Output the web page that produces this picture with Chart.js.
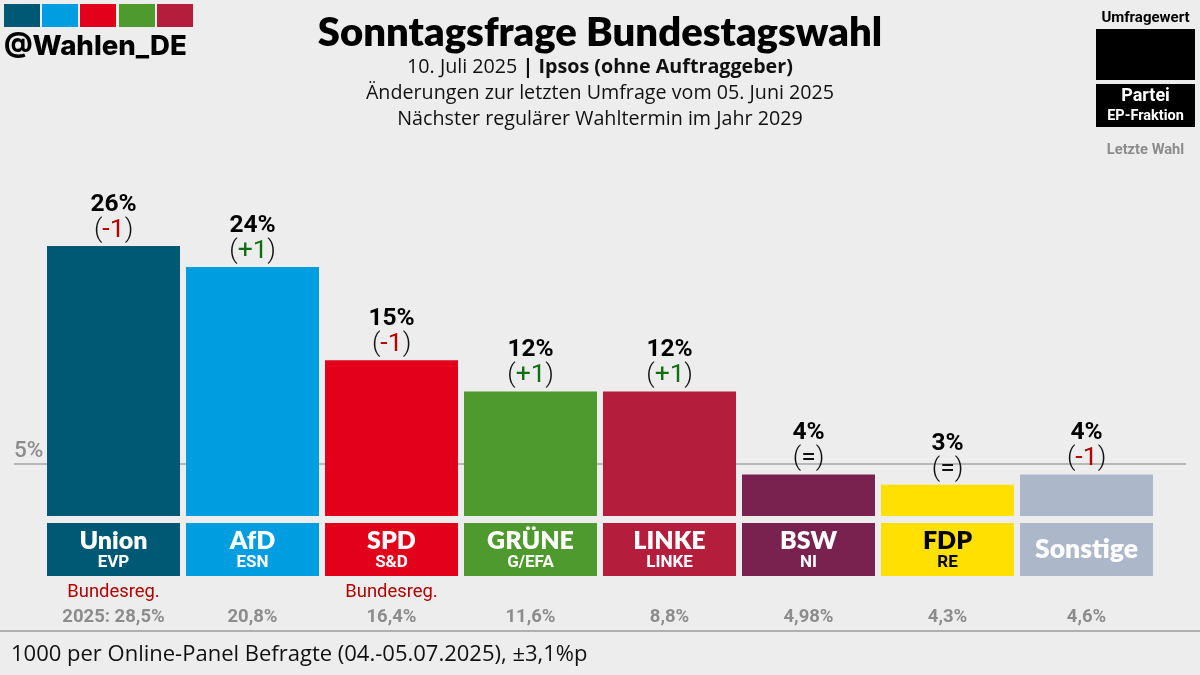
<!DOCTYPE html>
<html>
<head>
<meta charset="UTF-8">
<title>Sonntagsfrage Bundestagswahl</title>
<script src="https://cdn.jsdelivr.net/npm/chart.js@4"></script>
<style>
html,body{margin:0;padding:0;background:#ededed;}
#wrap{position:relative;width:1200px;height:675px;overflow:hidden;background:#ededed;color:#000;}
#chart{position:absolute;left:0;top:0;}
.t{position:absolute;white-space:nowrap;}
.c{left:0;width:1200px;text-align:center;}
.sub{font-family:"Open Sans";font-size:19.7px;line-height:26px;color:#111;}
.logo{position:absolute;top:4px;width:36px;height:23px;}
.leg{position:absolute;left:1096px;width:99px;background:#000;}
</style>
</head>
<body>
<div id="wrap">
  <canvas id="chart" width="1200" height="675"></canvas>
  <div id="logos"></div>
  <div class="t" style="left:4px;top:27px;font:800 27.6px/36px Inter;">@Wahlen_DE</div>
  <div class="t c" style="top:8px;font:800 40px/46px Lato;">Sonntagsfrage Bundestagswahl</div>
  <div class="t c sub" style="top:53px;">10. Juli 2025 <b>| Ipsos (ohne Auftraggeber)</b></div>
  <div class="t c sub" style="top:79px;">Änderungen zur letzten Umfrage vom 05. Juni 2025</div>
  <div class="t c sub" style="top:105px;">Nächster regulärer Wahltermin im Jahr 2029</div>
  <div class="t" style="left:1096px;width:99px;top:9px;text-align:center;font:700 15px/16px Roboto;">Umfragewert</div>
  <div class="leg" style="top:29px;height:51px;"></div>
  <div class="leg" style="top:84px;height:43px;"></div>
  <div class="t" style="left:1096px;width:99px;top:85px;text-align:center;font:700 18px/20px Roboto;color:#fff;">Partei</div>
  <div class="t" style="left:1096px;width:99px;top:107px;text-align:center;font:700 14.5px/18px Roboto;color:#fff;">EP-Fraktion</div>
  <div class="t" style="left:1096px;width:99px;top:141px;text-align:center;font:700 14.7px/17px Roboto;color:#8c8c8c;">Letzte Wahl</div>
  <div style="position:absolute;left:0;top:630px;width:1200px;height:2px;background:#b0b0b0;"></div>
  <div class="t" style="left:11px;top:636px;font:22px/32px 'Open Sans';color:#111;">1000 per Online-Panel Befragte (04.-05.07.2025), ±3,1%p</div>
</div>
<script>
// Werte
const parties = ['Union','AfD','SPD','GRÜNE','LINKE','BSW','FDP','Sonstige'];
const groups = ['EVP','ESN','S&D','G/EFA','LINKE','NI','RE',''];
const values = [26,24,15,12,12,4,3,4];
const changes = ['-1','+1','-1','+1','+1','=','=','-1'];
const lastVote = ['2025: 28,5%','20,8%','16,4%','11,6%','8,8%','4,98%','4,3%','4,6%'];
const government = ['Bundesreg.','','Bundesreg.','','','','',''];
const colors = ['#005974','#009EE0','#E3001B','#4F9A2E','#B51D3D','#79214F','#FFE000','#ADB7CA'];
const nameColors = ['#fff','#fff','#fff','#fff','#fff','#fff','#000','#fff'];
const threshold = 5;

// Logo oben links
const logos = document.getElementById('logos');
[4,42,80,119,157].forEach((x,i)=>{
    const d = document.createElement('div');
    d.className = 'logo';
    d.style.left = x+'px';
    d.style.background = colors[i];
    logos.appendChild(d);
});

function changeColor(c){
    if(c[0]==='-') return '#B30000';
    if(c[0]==='+') return '#0F6E0F';
    return '#111';
}

// 5%-Linie hinter den Balken
const thresholdLine = {
    id:'thresholdLine',
    beforeDatasetsDraw(chart){
        const ctx = chart.ctx, y = chart.scales.y.getPixelForValue(threshold);
        ctx.save();
        ctx.strokeStyle = '#b8b8b8';
        ctx.lineWidth = 2;
        ctx.beginPath();
        ctx.moveTo(14,y);
        ctx.lineTo(1186,y);
        ctx.stroke();
        ctx.fillStyle = '#8c8c8c';
        ctx.font = '500 22.5px Roboto';
        ctx.textAlign = 'left';
        ctx.textBaseline = 'alphabetic';
        ctx.fillText(threshold+'%',14,y-7);
        ctx.restore();
    }
};

// Beschriftungen und Parteikästen
const barLabels = {
    id:'barLabels',
    afterDatasetsDraw(chart){
        const ctx = chart.ctx, bars = chart.getDatasetMeta(0).data;
        ctx.save();
        ctx.textBaseline = 'alphabetic';
        bars.forEach((bar,i)=>{
            const x = bar.x, w = bar.width;
            ctx.textAlign = 'center';
            ctx.fillStyle = '#000';
            ctx.font = '700 24.5px Roboto';
            ctx.fillText(values[i]+'%',x,bar.y-35);

            // Änderung: Klammern schwarz, Zahl farbig
            ctx.font = '300 26.5px Roboto';
            const inner = changes[i];
            const pw = ctx.measureText('(').width, iw = ctx.measureText(inner).width;
            let px = x-(pw*2+iw)/2;
            ctx.textAlign = 'left';
            ctx.fillStyle = '#111';
            ctx.fillText('(',px,bar.y-9);
            ctx.fillStyle = changeColor(inner);
            ctx.font = '400 26.5px Roboto';
            ctx.fillText(inner,px+pw,bar.y-9);
            ctx.fillStyle = '#111';
            ctx.font = '300 26.5px Roboto';
            ctx.fillText(')',px+pw+iw,bar.y-9);

            // Kasten unter dem Balken
            ctx.fillStyle = colors[i];
            ctx.fillRect(x-w/2,523,w,53);
            ctx.textAlign = 'center';
            ctx.fillStyle = nameColors[i];
            if(groups[i]){
                ctx.font = '800 25px Lato';
                ctx.fillText(parties[i],x,549);
                ctx.font = '700 17px Roboto';
                ctx.fillText(groups[i],x,567);
            }else{
                ctx.font = '800 26.5px Lato';
                ctx.fillText(parties[i],x,558);
            }

            if(government[i]){
                ctx.fillStyle = '#B30000';
                ctx.font = '400 18.4px Roboto';
                ctx.fillText(government[i],x,597);
            }
            ctx.fillStyle = '#8c8c8c';
            ctx.font = '700 18.5px Roboto';
            ctx.fillText(lastVote[i],x,622);
        });
        ctx.restore();
    }
};

new Chart(document.getElementById('chart'),{
    type:'bar',
    data:{
        labels:parties,
        datasets:[{
            data:values,
            backgroundColor:colors,
            borderWidth:0,
            barPercentage:133/139,
            categoryPercentage:1
        }]
    },
    options:{
        responsive:false,
        animation:false,
        layout:{padding:{left:44,right:44,top:204.6,bottom:159}},
        plugins:{legend:{display:false},tooltip:{enabled:false},title:{display:false}},
        scales:{
            x:{display:false},
            y:{display:false,min:0,max:30}
        }
    },
    plugins:[thresholdLine,barLabels]
});
</script>
</body>
</html>
